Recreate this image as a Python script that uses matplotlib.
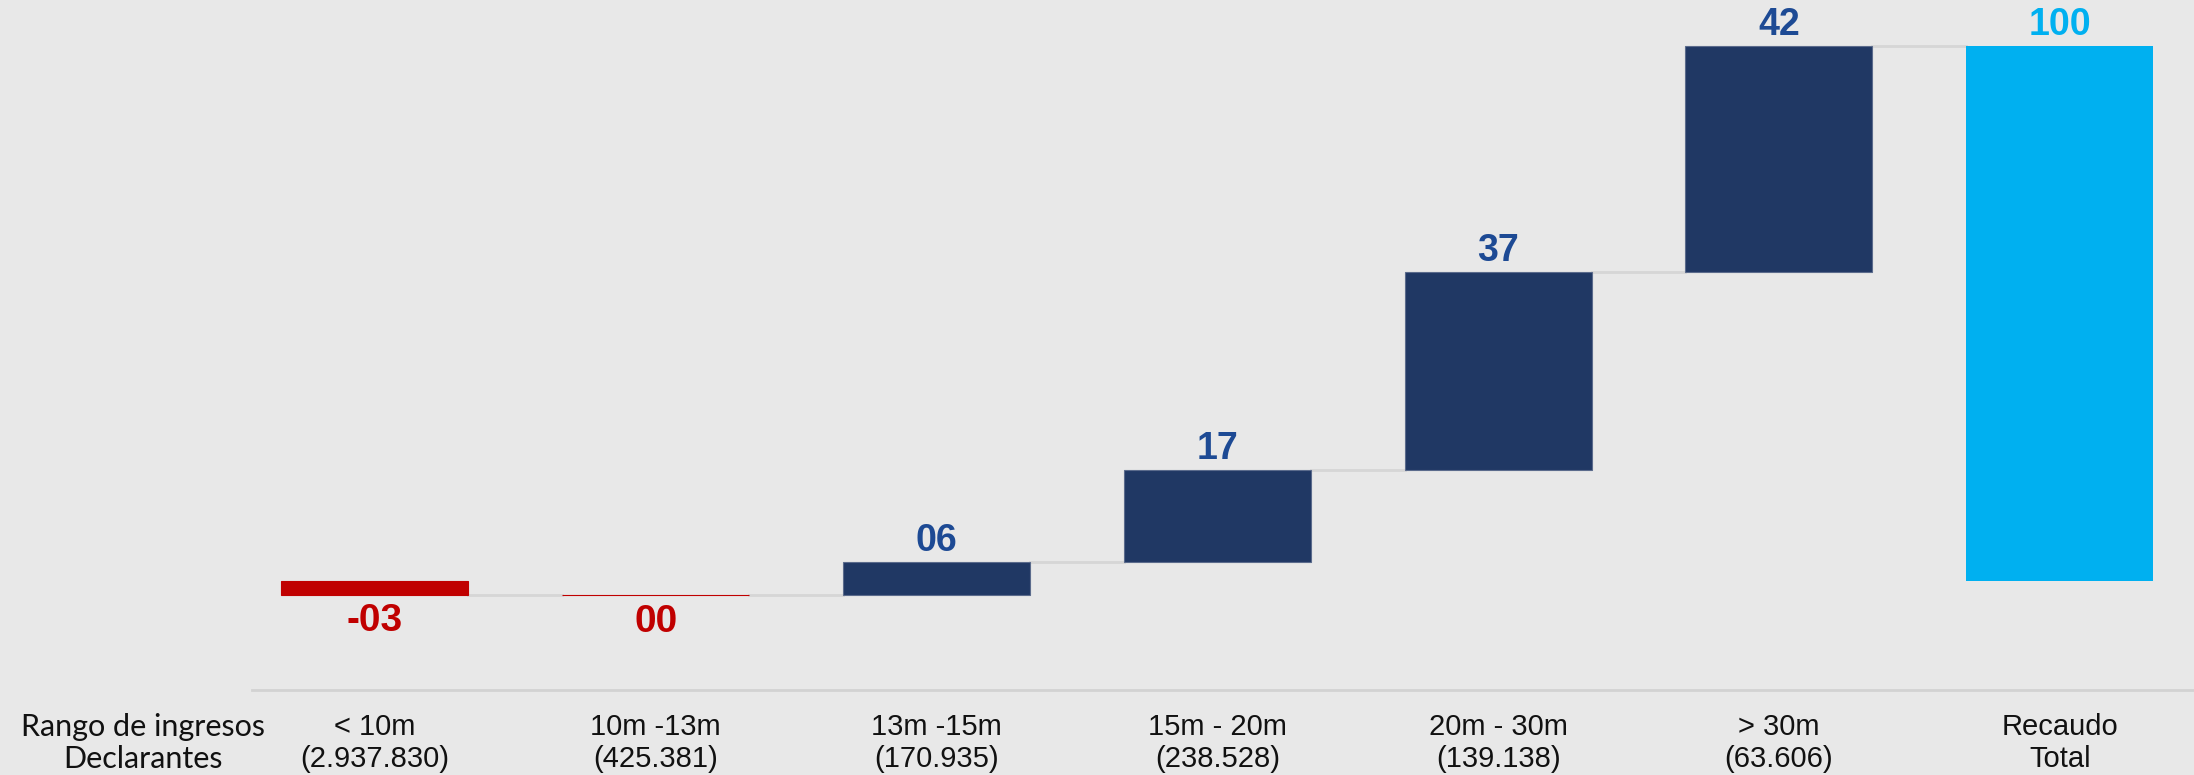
import numpy as np
import matplotlib.pyplot as plt

# Datos
rangos = ['< 10m', '10m -13m', '13m -15m', '15m - 20m', '20m - 30m', '> 30m', 'Recaudo']
declarantes = ['(2.937.830)', '(425.381)', '(170.935)', '(238.528)', '(139.138)', '(63.606)', 'Total']
cambios = [-2.6, -0.1, 6.3, 17.2, 36.9, 42.3]
total = 100
etiquetas = ['-03', '00', '06', '17', '37', '42', '100']

# Colores
rojo = '#c00000'
azul = '#203864'
azul_txt = '#1d4a94'
cian = '#00b0f0'
fondo = '#e8e8e8'

acum = np.cumsum(cambios)
bases = acum - np.array(cambios)
x = np.arange(len(rangos))
w = 0.666

fig = plt.figure(figsize=(21.94, 7.75), dpi=100, facecolor=fondo)
ax = fig.add_axes([0, 0, 1, 1])
ax.set_facecolor(fondo)
ax.set_xlim(-1.335, 6.478)
ax.set_ylim(-36.3, 108.6)
ax.axis('off')

# Conectores
niveles = list(acum)
for i in range(len(niveles)):
    ax.plot([x[i] + w / 2, x[i + 1] - w / 2], [niveles[i], niveles[i]],
            color='#d6d6d6', lw=2, zorder=1)

# Barras de variación
for i, c in enumerate(cambios):
    if c < 0:
        col = rojo
    else:
        col = azul
    ax.bar(x[i], c, bottom=bases[i], width=w, color=col,
           edgecolor='#5b6b8c' if c > 0 else col, lw=0.8, zorder=2)
    if c < 0:
        ax.annotate(etiquetas[i], (x[i], bases[i] + c), xytext=(0, -6),
                    textcoords='offset points', ha='center', va='top',
                    fontsize=28, fontweight='bold', color=rojo,
                    family='Liberation Sans')
    else:
        ax.annotate(etiquetas[i], (x[i], bases[i] + c), xytext=(0, 2),
                    textcoords='offset points', ha='center', va='bottom',
                    fontsize=27, fontweight='bold', color=azul_txt,
                    family='Liberation Sans')

# Barra total
ax.bar(x[-1], total, width=w, color=cian, zorder=2)
ax.annotate(etiquetas[-1], (x[-1], total), xytext=(0, 2),
            textcoords='offset points', ha='center', va='bottom',
            fontsize=27, fontweight='bold', color=cian, family='Liberation Sans')

# Eje inferior
ax.plot([-0.438, 6.478], [-20.4, -20.4], color='#d2d2d2', lw=2, zorder=1)

for i in range(len(rangos)):
    ax.text(x[i], -30.3, rangos[i] + '\n' + declarantes[i], ha='center', va='center',
            fontsize=21, linespacing=1.2, color='#111111', family='Liberation Sans')

ax.text(-0.826, -30.3, 'Rango de ingresos\nDeclarantes', ha='center', va='center',
        fontsize=22, linespacing=1.2, color='#111111', family='Lato')

plt.savefig('out.png', dpi=100, facecolor=fondo)
